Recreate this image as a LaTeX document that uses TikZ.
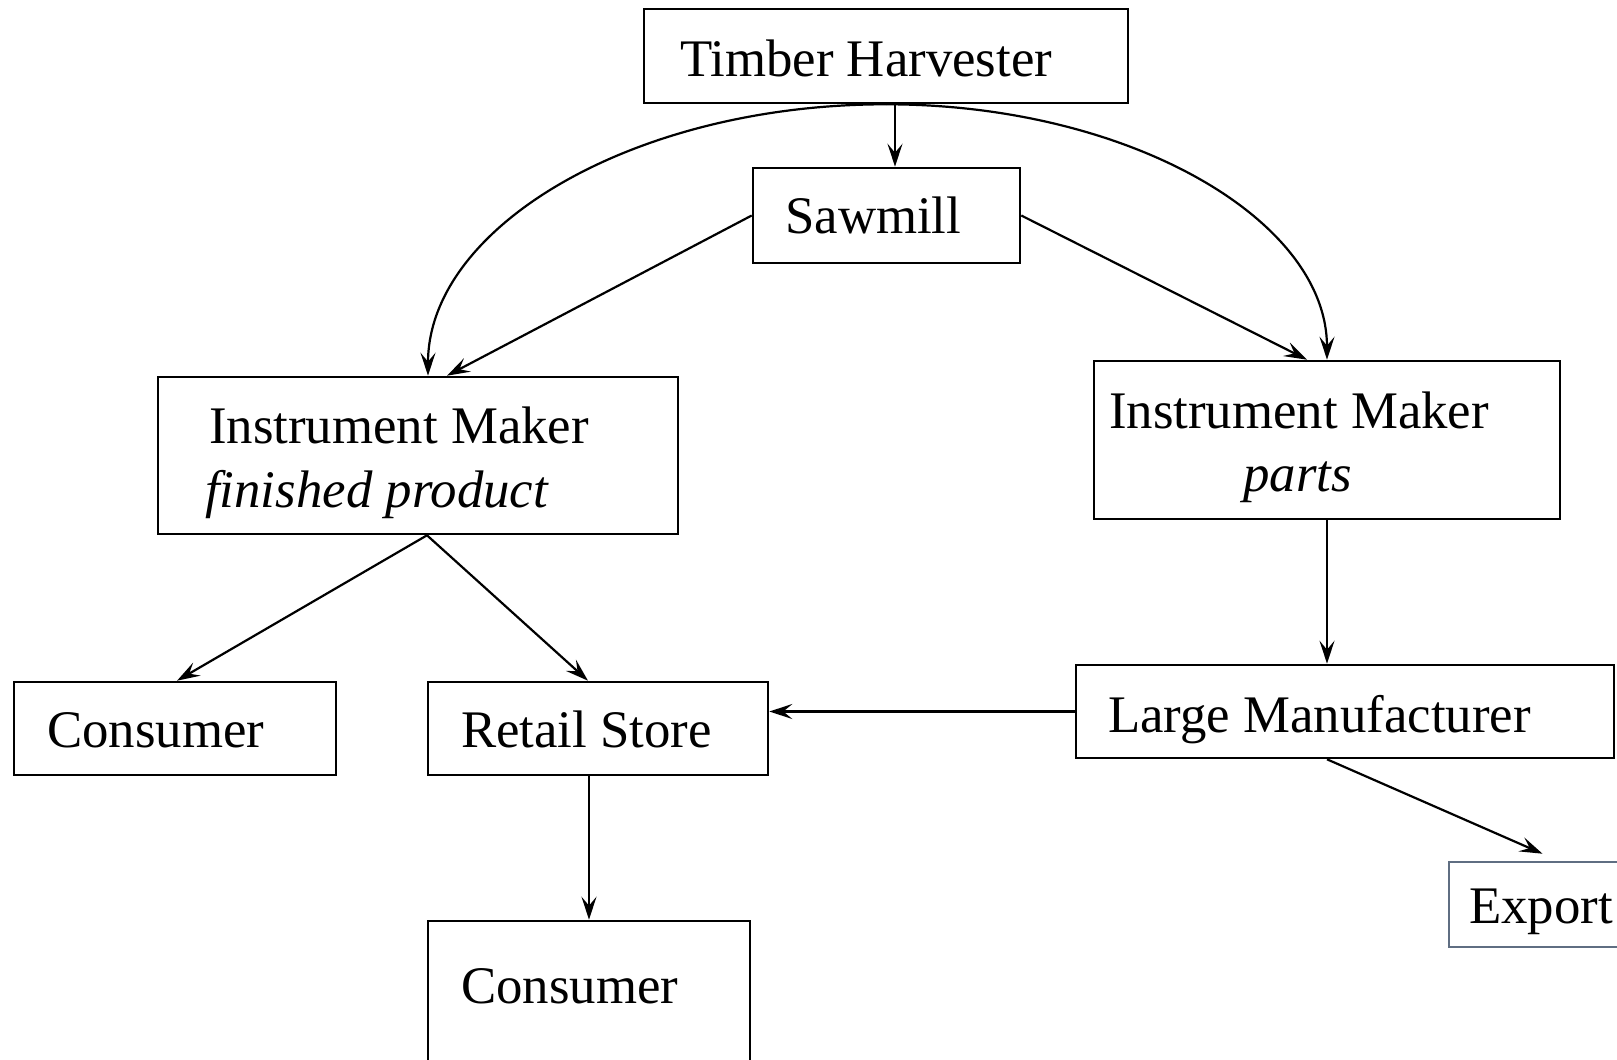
\documentclass[tikz,border=0pt]{standalone}
\usepackage{fontspec}
\setmainfont{Liberation Serif}
\usetikzlibrary{arrows.meta,calc}
\definecolor{exportgray}{RGB}{95,110,130}
\tikzset{
  box/.style={draw=black, line width=2.6pt, rectangle, inner sep=0pt},
  lbl/.style={anchor=base west, inner sep=0pt, font=\fontsize{52.8pt}{60pt}\selectfont},
  conn/.style={line width=2.2pt, -{Stealth[length=23pt, width=15pt, inset=9pt]}},
}
\begin{document}
\begin{tikzpicture}[x=1pt, y=-1pt]
\useasboundingbox (0,0) rectangle (1617,1060);
\clip (0,0) rectangle (1617,1060);
\fill[white] (0,0) rectangle (1617,1060);

% boxes
\node[box, minimum width=484pt, minimum height=94pt] (th) at (886,56) {};
\node[box, minimum width=267pt, minimum height=95pt] (saw) at (886.5,215.5) {};
\node[box, minimum width=520pt, minimum height=157pt] (imf) at (418,455.5) {};
\node[box, minimum width=466pt, minimum height=158pt] (imp) at (1327,440) {};
\node[box, minimum width=322pt, minimum height=93pt] (con1) at (175,728.5) {};
\node[box, minimum width=340pt, minimum height=93pt] (ret) at (598,728.5) {};
\node[box, minimum width=538pt, minimum height=93pt] (lm) at (1345,711.5) {};
\node[box, draw=exportgray, minimum width=191pt, minimum height=85pt] (exp) at (1544.5,904.5) {};
\node[box, minimum width=322pt, minimum height=179pt] (con2) at (589,1010.5) {};

% texts
\node[lbl] (tht) at (680,76) {Timber Harvester};
\node[lbl] (sawt) at (785,233) {Sawmill};
\node[lbl] (imft1) at (209,443) {Instrument Maker};
\node[lbl] (imft2) at (205,507) {\itshape finished product};
\node[lbl] (impt1) at (1109,428) {Instrument Maker};
\node[lbl] (impt2) at (1243,491) {\itshape parts};
\node[lbl] (con1t) at (47,747) {Consumer};
\node[lbl] (rett) at (461,747) {Retail Store};
\node[lbl] (lmt) at (1108,732) {Large Manufacturer};
\node[lbl] (expt) at (1469,923) {Export};
\node[lbl] (con2t) at (461,1003) {Consumer};

% connectors
\draw[conn] ([xshift=9pt]th.south) -- ([xshift=8.5pt]saw.north);
\draw[conn] (th.south) .. controls +(-252,0) and +(0,-149) .. ([xshift=10pt]imf.north);
\draw[conn] (th.south) .. controls +(243,0) and +(0,-140) .. (imp.north);
\draw[conn] (saw.west) -- ([xshift=29pt]imf.north);
\draw[conn] (saw.east) -- ([xshift=-20pt]imp.north);
\draw[conn] ([xshift=9pt]imf.south) -- ([xshift=2pt]con1.north);
\draw[conn] ([xshift=9pt]imf.south) -- ([xshift=-10pt]ret.north);
\draw[conn] (imp.south) -- ([xshift=-18pt]lm.north);
\draw[conn] (lm.west) -- (lm.west -| ret.east);
\draw[conn] ([xshift=-18pt]lm.south) -- ([xshift=-2pt,yshift=7pt]exp.north);
\draw[conn] ([xshift=-9pt]ret.south) -- (con2.north);
\end{tikzpicture}
\end{document}
